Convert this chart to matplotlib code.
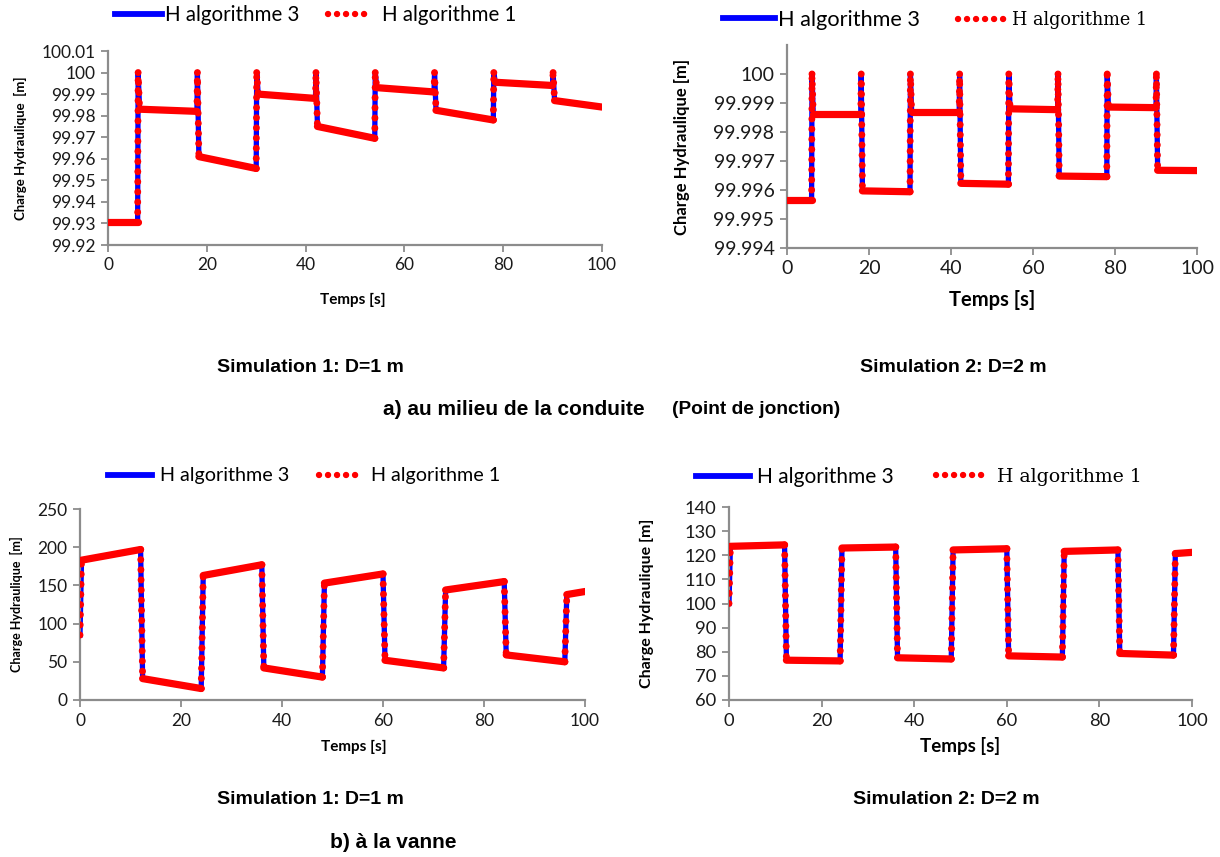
import matplotlib
matplotlib.use("Agg")
import matplotlib.pyplot as plt
from matplotlib.lines import Line2D

# ---------------- data ----------------
# a) au milieu de la conduite, Simulation 1 (D=1 m)
t_mid1 = [0, 6, 6.1, 6.4, 18, 18.1, 18.4, 30, 30.1, 30.4, 42, 42.1, 42.4,
          54, 54.1, 54.4, 66, 66.1, 66.4, 78, 78.1, 78.4, 90, 90.1, 90.4, 100]
h3_mid1 = [99.9305, 99.9305, 100.000, 99.983, 99.982, 100.000, 99.961, 99.9555,
           100.000, 99.990, 99.988, 100.000, 99.975, 99.9695, 100.000, 99.993,
           99.991, 100.000, 99.9825, 99.978, 100.000, 99.9955, 99.994, 100.000,
           99.987, 99.984]
h1_mid1 = [99.9305, 99.9305, 100.000, 99.983, 99.982, 100.000, 99.961, 99.9555,
           100.000, 99.990, 99.988, 100.000, 99.975, 99.9695, 100.000, 99.993,
           99.991, 100.000, 99.9825, 99.978, 100.000, 99.9955, 99.994, 100.000,
           99.987, 99.984]

# a) au milieu de la conduite, Simulation 2 (D=2 m)
t_mid2 = [0, 6, 6.1, 6.4, 18, 18.1, 18.4, 30, 30.1, 30.4, 42, 42.1, 42.4,
          54, 54.1, 54.4, 66, 66.1, 66.4, 78, 78.1, 78.4, 90, 90.1, 90.4, 100]
h3_mid2 = [99.99565, 99.99565, 100.000, 99.99862, 99.99862, 100.000, 99.99597,
           99.99594, 100.000, 99.99870, 99.99870, 100.000, 99.99623, 99.99620,
           100.000, 99.99880, 99.99877, 100.000, 99.99648, 99.99646, 100.000,
           99.99886, 99.99884, 100.000, 99.99668, 99.99667]
h1_mid2 = [99.99565, 99.99565, 100.000, 99.99862, 99.99862, 100.000, 99.99597,
           99.99594, 100.000, 99.99870, 99.99870, 100.000, 99.99623, 99.99620,
           100.000, 99.99880, 99.99877, 100.000, 99.99648, 99.99646, 100.000,
           99.99886, 99.99884, 100.000, 99.99668, 99.99667]

# b) à la vanne, Simulation 1 (D=1 m)
t_v1 = [0, 0.3, 12, 12.4, 24, 24.4, 36, 36.4, 48, 48.4, 60, 60.4, 72, 72.4,
        84, 84.4, 96, 96.4, 100]
h3_v1 = [85, 183, 197, 28, 15, 163, 177, 42, 30, 153, 165, 52, 42, 144, 155,
         59, 50, 138, 142]
h1_v1 = [85, 183, 197, 28, 15, 163, 177, 42, 30, 153, 165, 52, 42, 144, 155,
         59, 50, 138, 142]

# b) à la vanne, Simulation 2 (D=2 m)
t_v2 = [0, 0.3, 12, 12.4, 24, 24.4, 36, 36.4, 48, 48.4, 60, 60.4, 72, 72.4,
        84, 84.4, 96, 96.4, 100]
h3_v2 = [100, 123.7, 124.3, 76.5, 76.2, 123.0, 123.4, 77.5, 77.0, 122.2, 122.7,
         78.3, 77.8, 121.6, 122.2, 79.3, 78.6, 120.7, 121.2]
h1_v2 = [100, 123.7, 124.3, 76.5, 76.2, 123.0, 123.4, 77.5, 77.0, 122.2, 122.7,
         78.3, 77.8, 121.6, 122.2, 79.3, 78.6, 120.7, 121.2]

x_ticks = [0, 20, 40, 60, 80, 100]
yt_mid1 = [99.92, 99.93, 99.94, 99.95, 99.96, 99.97, 99.98, 99.99, 100.00, 100.01]
yl_mid1 = ["99.92", "99.93", "99.94", "99.95", "99.96", "99.97", "99.98", "99.99", "100", "100.01"]
yt_mid2 = [99.994, 99.995, 99.996, 99.997, 99.998, 99.999, 100.000]
yl_mid2 = ["99.994", "99.995", "99.996", "99.997", "99.998", "99.999", "100"]
yt_v1 = [0, 50, 100, 150, 200, 250]
yt_v2 = [60, 70, 80, 90, 100, 110, 120, 130, 140]

leg3 = "H algorithme 3"
leg1 = "H algorithme 1"
ylab = "Charge Hydraulique  [m]"
ylab2 = "Charge Hydraulique [m]"
xlab = "Temps [s]"

# ---------------- figure ----------------
W, H = 1220, 857
fig = plt.figure(figsize=(W / 100, H / 100), dpi=100)
fig.patch.set_facecolor("white")

BLUE = "#0000ff"
RED = "#ff0000"
GRAY = "#8c8c8c"
SANS = ["Lato", "DejaVu Sans"]
SERIF = ["DejaVu Serif"]
DOTS = (0, (0.01, 1.45))


def rect(x0, y0, x1, y1):
    return [x0 / W, 1 - y1 / H, (x1 - x0) / W, (y1 - y0) / H]


def add_leg(handle, label, x, y, font, size, hl, pad):
    fig.legend(handles=[handle], labels=[label], frameon=False,
               loc="center left", bbox_to_anchor=(x / W, 1 - y / H),
               handlelength=hl, handletextpad=pad, borderaxespad=0, borderpad=0,
               prop={"family": font, "size": size})


def panel(box, t, h3, h1, ylim, yt, yl, tick_fs, ylabel, ylab_fs, ylabpad,
          xlab_fs, xlab_pad, xlab_cx, legs):
    ax = fig.add_axes(rect(*box))
    ax.plot(t, h3, color=BLUE, lw=3.8, zorder=2)
    # algorithm 1: dense points on the slow parts (solid look), dotted on the jumps
    for i in range(len(t) - 1):
        xs, ys = [t[i], t[i + 1]], [h1[i], h1[i + 1]]
        if t[i + 1] - t[i] < 1:
            ax.plot(xs, ys, color=RED, lw=5.0, linestyle=DOTS,
                    dash_capstyle="round", zorder=3)
        else:
            ax.plot(xs, ys, color=RED, lw=5.2, solid_capstyle="round", zorder=3)
    ax.set_xlim(0, 100)
    ax.set_ylim(*ylim)
    ax.set_xticks(x_ticks)
    ax.set_xticklabels([str(v) for v in x_ticks], family=SANS, fontsize=tick_fs, color="#1a1a1a")
    ax.set_yticks(yt)
    ax.set_yticklabels(yl, family=SANS, fontsize=tick_fs, color="#1a1a1a")
    for s in ("top", "right"):
        ax.spines[s].set_visible(False)
    for s in ("left", "bottom"):
        ax.spines[s].set_color(GRAY)
        ax.spines[s].set_linewidth(1.6)
    ax.tick_params(axis="both", direction="out", length=5, width=1.3, color=GRAY, pad=4)
    ax.set_ylabel(ylabel, family=SANS, fontweight="bold", fontsize=ylab_fs, labelpad=ylabpad)
    ax.set_xlabel(xlab, family=SANS, fontweight="bold", fontsize=xlab_fs, labelpad=xlab_pad)
    x0, x1 = box[0], box[2]
    ax.xaxis.label.set_x((xlab_cx - x0) / (x1 - x0))
    h_blue = Line2D([], [], color=BLUE, lw=4.2)
    h_red = Line2D([], [], color=RED, lw=4.6, linestyle=(0, (0.01, 1.4)),
                   dash_capstyle="round")
    (b3x, b3y, f3, s3, hl3, p3), (b1x, b1y, f1, s1, hl1, p1) = legs
    add_leg(h_blue, leg3, b3x, b3y, f3, s3, hl3, p3)
    add_leg(h_red, leg1, b1x, b1y, f1, s1, hl1, p1)
    return ax


panel((108, 51, 602, 245), t_mid1, h3_mid1, h1_mid1, (99.92, 100.01), yt_mid1, yl_mid1,
      12.5, ylab, 9.5, 10, 11, 14, 353,
      ((115, 15, SANS, 14.8, 2.3, 0.15), (328, 15, SANS, 14.8, 2.15, 0.5)))
panel((787, 45, 1197, 248), t_mid2, h3_mid2, h1_mid2, (99.994, 100.001), yt_mid2, yl_mid2,
      14, ylab2, 12, 17, 14.5, 9, 992,
      ((723, 20, SANS, 15.6, 2.4, 0.12), (958, 20, SERIF, 12.7, 2.6, 0.45)))
panel((80, 509, 585, 700), t_v1, h3_v1, h1_v1, (0, 250), yt_v1,
      [str(v) for v in yt_v1], 12.5, ylab, 9, 10, 11, 8, 354,
      ((108, 476, SANS, 14.2, 2.23, 0.4), (319, 476, SANS, 14.2, 2.2, 0.45)))
panel((729, 507, 1192, 700), t_v2, h3_v2, h1_v2, (60, 140), yt_v2,
      [str(v) for v in yt_v2], 13.2, ylab2, 11.5, 22, 13.5, 6, 960,
      ((696, 477, SANS, 15, 2.6, 0.33), (936, 477, SERIF, 13.6, 2.85, 0.4)))

TITLE = ["Liberation Sans", "DejaVu Sans"]

fig.text(310 / W, 1 - 367 / H, "Simulation 1: D=1 m", family=TITLE, fontweight="bold",
         fontsize=14, ha="center", va="center")
fig.text(953 / W, 1 - 367 / H, "Simulation 2: D=2 m", family=TITLE, fontweight="bold",
         fontsize=14, ha="center", va="center")
fig.text(383 / W, 1 - 410 / H, "a) au milieu de la conduite", family=TITLE, fontweight="bold",
         fontsize=15, ha="left", va="center")
fig.text(672 / W, 1 - 410 / H, "(Point de jonction)", family=TITLE, fontweight="bold",
         fontsize=13.8, ha="left", va="center")
fig.text(310 / W, 1 - 800 / H, "Simulation 1: D=1 m", family=TITLE, fontweight="bold",
         fontsize=14, ha="center", va="center")
fig.text(946 / W, 1 - 800 / H, "Simulation 2: D=2 m", family=TITLE, fontweight="bold",
         fontsize=14, ha="center", va="center")
fig.text(330 / W, 1 - 843 / H, "b) à la vanne", family=TITLE, fontweight="bold",
         fontsize=15, ha="left", va="center")

fig.savefig("out.png", dpi=100, facecolor="white")
